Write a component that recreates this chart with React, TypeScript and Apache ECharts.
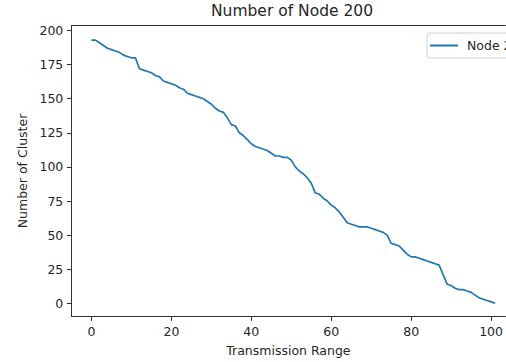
import React, { useEffect, useRef } from "react";
import * as echarts from "echarts";

const xTicks = [0, 20, 40, 60, 80, 100];
const yTicks = [0, 25, 50, 75, 100, 125, 150, 175, 200];
const transmissionRange = Array.from({ length: 102 }, (_, i) => i);
const clusterCounts = [
  193, 193, 191, 189, 187, 186, 185, 184, 182, 181,
  180, 180, 172, 171, 170, 169, 167, 166, 163, 162,
  161, 160, 158, 157, 154, 153, 152, 151, 150, 148,
  146, 143, 141, 140, 136, 131, 130, 125, 123, 120,
  117, 115, 114, 113, 112, 110, 108, 108, 107, 107,
  105, 100, 97, 95, 92, 88, 81, 80, 77, 75,
  72, 70, 67, 63, 59, 58, 57, 56, 56, 56,
  55, 54, 53, 52, 50, 44, 43, 42, 39, 36,
  34, 34, 33, 32, 31, 30, 29, 28, 21, 14,
  13, 11, 10, 10, 9, 8, 6, 4, 3, 2,
  1, 0,
];
const seriesName = "Node 200";
const titleText = "Number of Node 200";
const xName = "Transmission Range";
const yName = "Number of Cluster";

export default function App() {
  const ref = useRef<HTMLDivElement>(null);
  useEffect(() => {
    if (!ref.current) return;
    const chart = echarts.init(ref.current, null, { renderer: "svg" });
    const font = "DejaVu Sans";
    const textColor = "#262626";
    const xMin = -5.05;
    const xMax = 103.6;
    chart.setOption({
      animation: false,
      backgroundColor: "#fff",
      title: {
        text: titleText,
        left: 211,
        top: 3,
        padding: 0,
        textStyle: { fontFamily: font, fontSize: 15.5, fontWeight: "normal", color: textColor },
      },
      legend: {
        left: 427,
        top: 33,
        padding: [6, 8, 6, 3],
        icon: "rect",
        itemWidth: 28,
        itemHeight: 2,
        itemGap: 10,
        borderColor: "#d0d0d0",
        borderWidth: 1,
        borderRadius: 3,
        backgroundColor: "rgba(255,255,255,0.8)",
        textStyle: { fontFamily: font, fontSize: 12.5, color: textColor, padding: [0, 0, 0, 4] },
        data: [seriesName],
      },
      grid: {
        left: 71.3,
        top: 25.5,
        right: 0,
        bottom: 45.5,
        show: false,
      },
      xAxis: [
        {
          type: "value",
          min: xMin,
          max: xMax,
          name: xName,
          nameLocation: "middle",
          nameGap: 27,
          nameTextStyle: { fontFamily: font, fontSize: 12.5, color: textColor },
          axisLine: { show: true, onZero: false, lineStyle: { color: "#333", width: 1 } },
          axisTick: { show: true, length: 4.4, customValues: xTicks, lineStyle: { color: "#333", width: 1 } },
          axisLabel: { customValues: xTicks, margin: 8, fontFamily: font, fontSize: 12.5, color: textColor },
          splitLine: { show: false },
        },
        {
          type: "value",
          position: "top",
          min: xMin,
          max: xMax,
          axisLine: { show: true, onZero: false, lineStyle: { color: "#333", width: 1 } },
          axisTick: { show: false },
          axisLabel: { show: false },
          splitLine: { show: false },
        },
      ],
      yAxis: {
        type: "value",
        min: -9.7,
        max: 203.7,
        name: yName,
        nameLocation: "middle",
        nameGap: 42,
        nameTextStyle: { fontFamily: font, fontSize: 12.5, color: textColor },
        axisLine: { show: true, onZero: false, lineStyle: { color: "#333", width: 1 } },
        axisTick: { show: true, length: 4.4, customValues: yTicks, lineStyle: { color: "#333", width: 1 } },
        axisLabel: { customValues: yTicks, margin: 8, fontFamily: font, fontSize: 12.5, color: textColor },
        splitLine: { show: false },
      },
      series: [
        {
          name: seriesName,
          type: "line",
          xAxisIndex: 0,
          data: transmissionRange.map((x, i) => [x, clusterCounts[i]]),
          showSymbol: false,
          symbol: "none",
          lineStyle: { color: "#1f77b4", width: 1.7 },
          itemStyle: { color: "#1f77b4" },
        },
      ],
    });
    return () => chart.dispose();
  }, []);
  return (
    <div
      ref={ref}
      style={{ position: "fixed", left: 0, top: 0, width: 506, height: 362 }}
    />
  );
}
